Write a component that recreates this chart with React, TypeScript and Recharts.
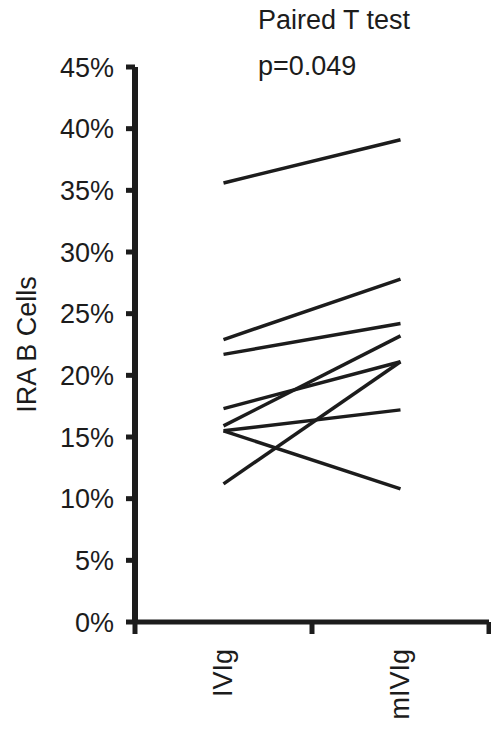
import { LineChart, Line, XAxis, YAxis } from "recharts";

const categories = ["IVIg", "mIVIg"];
const categoryX = [0.5, 1.5];
// IRA B cell % per patient, before (IVIg) and after (mIVIg)
const ivigValues = [35.6, 22.9, 21.7, 17.3, 15.9, 15.5, 15.5, 11.2];
const mivigValues = [39.1, 27.8, 24.2, 21.1, 23.2, 17.2, 10.8, 21.1];
const yTicks = [0, 5, 10, 15, 20, 25, 30, 35, 40, 45];
const xTicks = [0, 0.5, 1, 1.5, 2];

const seriesKeys = ivigValues.map((_, i) => `p${i}`);

const data = categories.map((cat, ci) => {
  const row: Record<string, number | string> = { cat, x: categoryX[ci] };
  seriesKeys.forEach((k, i) => {
    row[k] = ci === 0 ? ivigValues[i] : mivigValues[i];
  });
  return row;
});

const FONT = "'Liberation Sans', Arial, Helvetica, sans-serif";
const INK = "#1c1c1c";

function XTick(props: any) {
  const { x, y, payload } = props;
  const v = payload.value as number;
  if (Number.isInteger(v)) {
    return <line x1={x} x2={x} y1={y} y2={y + 12} stroke={INK} strokeWidth={5} />;
  }
  const label = categories[categoryX.indexOf(v)];
  return (
    <text
      x={x + 8}
      y={y + 27}
      transform={`rotate(-90, ${x + 8}, ${y + 27})`}
      textAnchor="end"
      fontSize={27}
      fontFamily={FONT}
      fill={INK}
    >
      {label}
    </text>
  );
}

export default function App() {
  return (
    <div style={{ position: "absolute", left: 0, top: 0, width: 491, height: 730, background: "#fff" }}>
      <div style={{ position: "absolute", left: 258, top: 5, fontSize: 27, fontFamily: FONT, color: INK, whiteSpace: "nowrap", lineHeight: "31px" }}>
        Paired T test
      </div>
      <div style={{ position: "absolute", left: 258, top: 51, fontSize: 27, fontFamily: FONT, color: INK, whiteSpace: "nowrap", lineHeight: "31px" }}>
        p=0.049
      </div>
      <LineChart width={491} height={730} data={data} margin={{ top: 67, right: 2, bottom: 0, left: 0 }}>
        <XAxis
          dataKey="x"
          type="number"
          domain={[0, 2]}
          ticks={xTicks}
          height={108}
          interval={0}
          tickLine={false}
          tickSize={0}
          tickMargin={0}
          axisLine={{ stroke: INK, strokeWidth: 5 }}
          tick={<XTick />}
        />
        <YAxis
          type="number"
          domain={[0, 45]}
          ticks={yTicks}
          width={135}
          interval={0}
          tickSize={9}
          tickMargin={12}
          tickFormatter={(v: number) => `${v}%`}
          tick={{ fontSize: 27, fontFamily: FONT, fill: INK }}
          tickLine={{ stroke: INK, strokeWidth: 5 }}
          axisLine={{ stroke: INK, strokeWidth: 6 }}
          label={{
            value: "IRA B Cells",
            angle: -90,
            position: "insideLeft",
            offset: 26,
            style: { textAnchor: "middle", fontSize: 27, fontFamily: FONT, fill: INK },
          }}
        />
        {seriesKeys.map((k) => (
          <Line
            key={k}
            dataKey={k}
            type="linear"
            stroke={INK}
            strokeWidth={3.5}
            dot={false}
            activeDot={false}
            isAnimationActive={false}
          />
        ))}
      </LineChart>
    </div>
  );
}
